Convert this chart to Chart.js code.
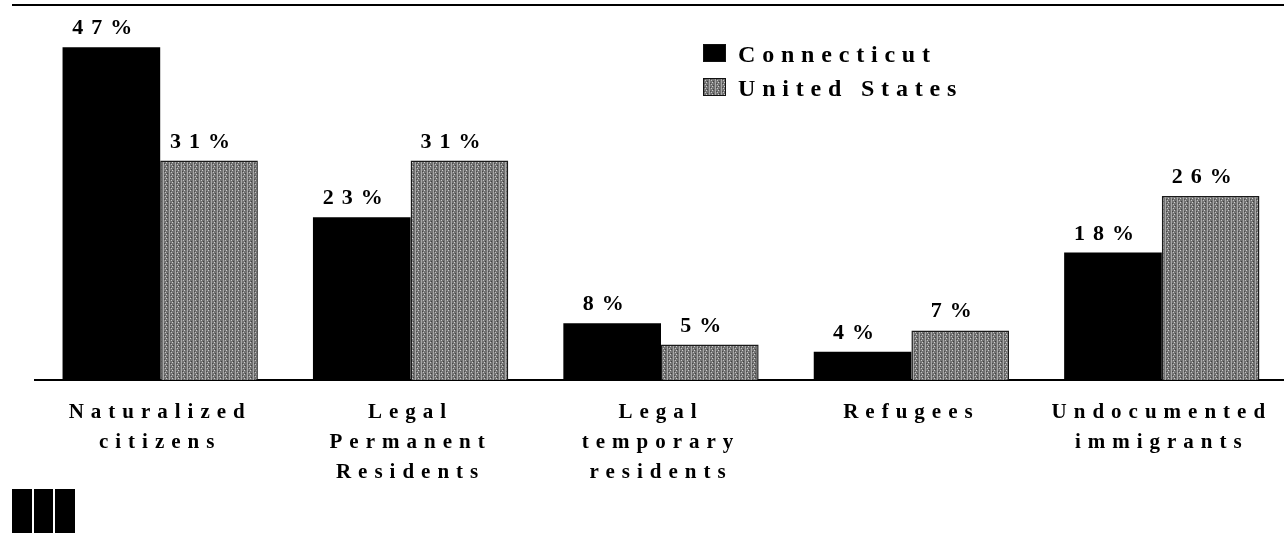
<!DOCTYPE html>
<html>
<head>
<meta charset="utf-8">
<script src="https://cdn.jsdelivr.net/npm/chart.js@4/dist/chart.umd.min.js"></script>
<style>
  html, body { margin: 0; padding: 0; background: #fff; overflow: hidden; }
  #wrap { position: relative; width: 1290px; height: 533px; }
  #topline { position: absolute; left: 12px; top: 4px; width: 1272px; height: 2px; background: #000; }
  .logo { position: absolute; top: 489px; height: 44px; background: #000; }
</style>
</head>
<body>
<div id="wrap">
  <canvas id="chart"></canvas>
  <div id="topline"></div>
  <div class="logo" style="left:12px;width:20px"></div>
  <div class="logo" style="left:34px;width:19px"></div>
  <div class="logo" style="left:55px;width:20px"></div>
</div>
<script>
// --- 데이터 ---
const categories = [
  ['Naturalized', 'citizens'],
  ['Legal', 'Permanent', 'Residents'],
  ['Legal', 'temporary', 'residents'],
  ['Refugees'],
  ['Undocumented', 'immigrants']
];
const connecticut = [47, 23, 8, 4, 18];
const unitedStates = [31, 31, 5, 7, 26];
const seriesNames = ['Connecticut', 'United States'];

const FONT = "'Liberation Serif', 'DejaVu Serif', serif";

// 회색 스크린톤 패턴 (스캔된 막대 느낌)
function makePattern() {
  const c = document.createElement('canvas');
  c.width = 6; c.height = 4;
  const g = c.getContext('2d');
  g.fillStyle = '#727272'; g.fillRect(0, 0, 6, 4);
  g.fillStyle = '#a8a8a8'; g.fillRect(1, 0, 1, 4);
  g.fillStyle = '#d0d0d0'; g.fillRect(4, 2, 1, 1);
  g.fillStyle = '#c4c4c4'; g.fillRect(3, 0, 1, 1);
  g.fillStyle = '#404040'; g.fillRect(5, 1, 1, 1);
  g.fillStyle = '#4a4a4a'; g.fillRect(2, 3, 1, 1);
  return document.getElementById('chart').getContext('2d').createPattern(c, 'repeat');
}
const grayFill = makePattern();

// 자간 설정 (캔버스 리사이즈 시 초기화되므로 매번)
const spacing = {
  id: 'spacing',
  beforeDraw(chart) { chart.ctx.letterSpacing = '7px'; }
};

// 막대 위 값 표시
const valueLabels = {
  id: 'valueLabels',
  afterDatasetsDraw(chart) {
    const ctx = chart.ctx;
    ctx.save();
    ctx.letterSpacing = '8px';
    ctx.font = 'bold 22px ' + FONT;
    ctx.fillStyle = '#000';
    ctx.textAlign = 'center';
    ctx.textBaseline = 'alphabetic';
    chart.data.datasets.forEach((ds, i) => {
      chart.getDatasetMeta(i).data.forEach((bar, j) => {
        ctx.fillText(ds.data[j] + '%', bar.x - 5, bar.y - 13);
      });
    });
    ctx.restore();
  }
};

// 범례 (오른쪽 위)
const boxLegend = {
  id: 'boxLegend',
  afterDraw(chart, args, opts) {
    const ctx = chart.ctx;
    ctx.save();
    ctx.letterSpacing = '6.8px';
    ctx.font = 'bold 24px ' + FONT;
    ctx.textBaseline = 'alphabetic';
    ctx.textAlign = 'left';
    chart.data.datasets.forEach((ds, i) => {
      const y = opts.y + i * opts.gap;
      ctx.fillStyle = ds.backgroundColor;
      ctx.fillRect(opts.x, y, 23, 18);
      ctx.lineWidth = 1;
      ctx.strokeStyle = '#111';
      ctx.strokeRect(opts.x + 0.5, y + 0.5, 22, 17);
      ctx.fillStyle = '#000';
      ctx.fillText(ds.label, opts.x + 35, y + 18);
    });
    ctx.restore();
  }
};

new Chart(document.getElementById('chart'), {
  type: 'bar',
  data: {
    labels: categories,
    datasets: [
      { label: seriesNames[0], data: connecticut, backgroundColor: '#000', borderColor: '#000', borderWidth: 0 },
      { label: seriesNames[1], data: unitedStates, backgroundColor: grayFill, borderColor: '#1a1a1a', borderWidth: 1.5 }
    ]
  },
  options: {
    responsive: true,
    maintainAspectRatio: false,
    animation: false,
    layout: { padding: { left: 35, right: 3, top: 26, bottom: 0 } },
    datasets: { bar: { categoryPercentage: 0.78, barPercentage: 1.0 } },
    plugins: {
      legend: { display: false },
      tooltip: { enabled: false },
      boxLegend: { x: 703, y: 44, gap: 34 }
    },
    scales: {
      x: {
        grid: { display: false, drawTicks: false },
        border: { display: true, color: '#000', width: 2 },
        ticks: {
          color: '#000',
          font: { family: FONT, size: 21, weight: 'bold', lineHeight: 1.43 },
          padding: 18,
          autoSkip: false,
          maxRotation: 0
        },
        afterFit(scale) { scale.height = 153; }
      },
      y: {
        display: false,
        min: 0,
        max: 50
      }
    }
  },
  plugins: [spacing, valueLabels, boxLegend]
});
</script>
</body>
</html>
